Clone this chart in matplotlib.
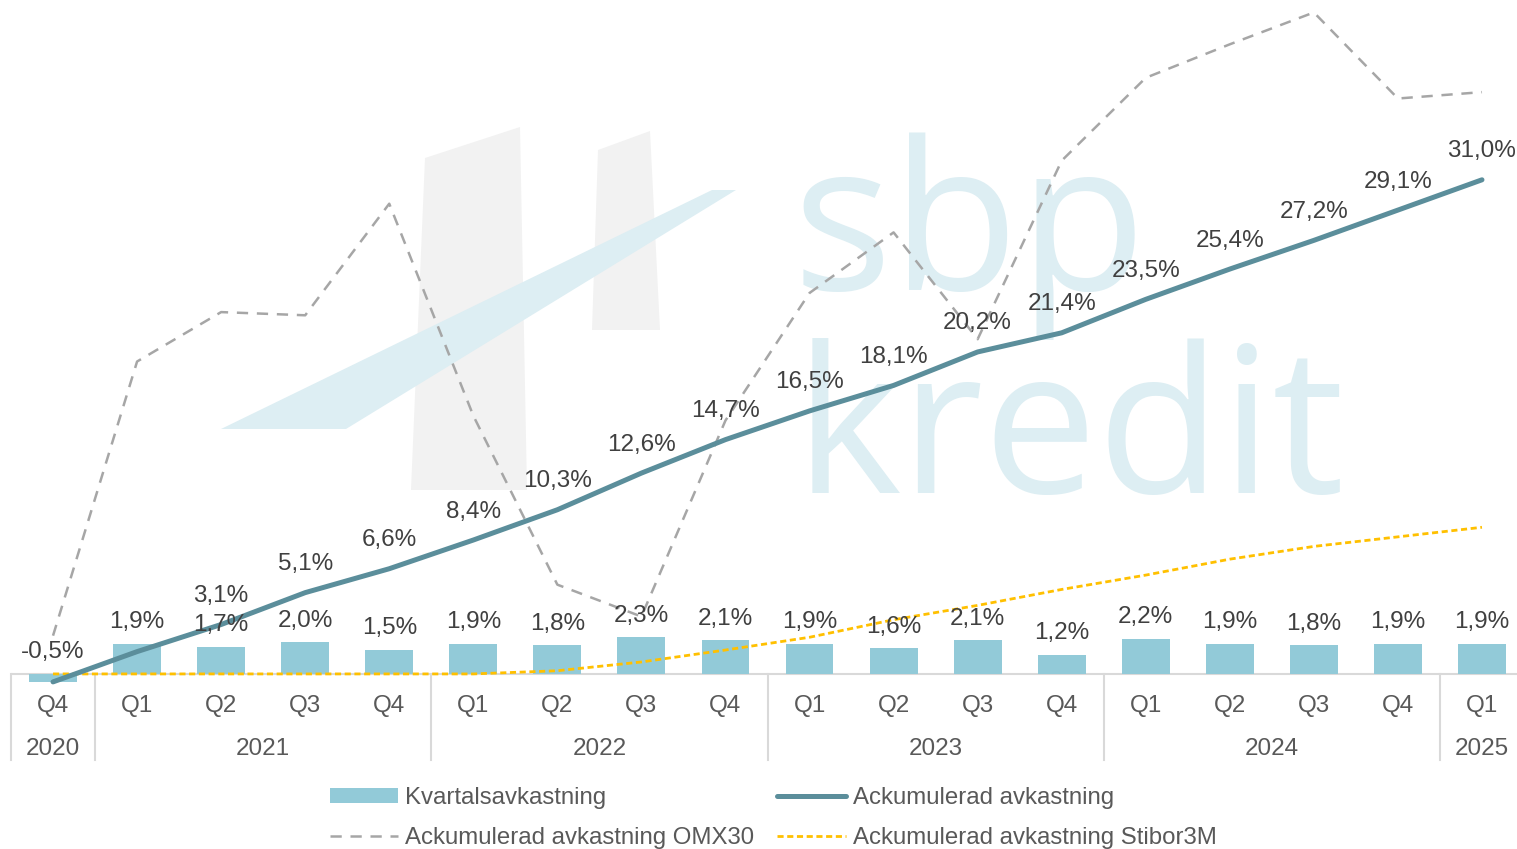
import numpy as np
import matplotlib
matplotlib.use("Agg")
import matplotlib.pyplot as plt
from matplotlib.patches import Polygon
from matplotlib.lines import Line2D
from matplotlib.patches import Patch

plt.rcParams['font.family'] = ['Liberation Sans', 'DejaVu Sans']

# --- data ---
quarters = ['Q4', 'Q1', 'Q2', 'Q3', 'Q4', 'Q1', 'Q2', 'Q3', 'Q4',
            'Q1', 'Q2', 'Q3', 'Q4', 'Q1', 'Q2', 'Q3', 'Q4', 'Q1']
years = ['2020', '2021', '2022', '2023', '2024', '2025']
year_span = [1, 4, 4, 4, 4, 1]

kvartal = [-0.5, 1.9, 1.7, 2.0, 1.5, 1.9, 1.8, 2.3, 2.1,
           1.9, 1.6, 2.1, 1.2, 2.2, 1.9, 1.8, 1.9, 1.9]
ackum = [-0.5, 1.4, 3.1, 5.1, 6.6, 8.4, 10.3, 12.6, 14.7,
         16.5, 18.1, 20.2, 21.4, 23.5, 25.4, 27.2, 29.1, 31.0]
omx30 = [2.4, 19.6, 22.7, 22.5, 29.5, 16.2, 5.6, 3.6, 15.9,
         23.9, 27.7, 21.0, 32.2, 37.4, 39.5, 41.5, 36.1, 36.5]
stibor = [0.0, 0.0, 0.0, 0.0, 0.0, 0.0, 0.2, 0.75, 1.5,
          2.3, 3.4, 4.3, 5.3, 6.2, 7.2, 8.0, 8.6, 9.2]

c_bar = '#92CAD8'
c_cum = '#5B8E9B'
c_omx = '#A6A6A6'
c_sti = '#FFC000'
c_txt = '#404040'
c_axis = '#595959'
c_grid = '#D9D9D9'
fs = 17.5

W, H = 1517, 849
fig = plt.figure(figsize=(W / 100, H / 100), dpi=100)


def fx(px):
    return px / W


def fy(py):
    return 1 - py / H


ax = fig.add_axes([fx(11), fy(760), fx(1524) - fx(11), fy(0) - fy(760)])
ax.patch.set_visible(False)
for s in ax.spines.values():
    s.set_visible(False)
ax.set_xticks([])
ax.set_yticks([])

x = np.arange(len(quarters))
ax.set_xlim(-0.5, len(quarters) - 0.5)
ax.set_ylim(-5.4, 42.28)

# watermark (logo) behind the chart
wm_blue = '#DDEEF3'
wm_grey = '#F2F2F2'
for pts, col in [
    ([(425, 158), (520, 127), (527, 490), (411, 490)], wm_grey),
    ([(598, 150), (650, 131), (660, 330), (592, 330)], wm_grey),
    ([(221, 429), (346, 429), (736, 190), (712, 190)], wm_blue),
]:
    fig.patches.append(Polygon([(fx(a), fy(b)) for a, b in pts], closed=True,
                               transform=fig.transFigure, facecolor=col,
                               edgecolor='none', zorder=-5))
fig.text(fx(793), fy(290), 'sbp', fontsize=150, color=wm_blue,
         family='Open Sans', ha='left', va='baseline', zorder=-5)
fig.text(fx(795), fy(493), 'kredit', fontsize=146, color=wm_blue,
         family='Open Sans', ha='left', va='baseline', zorder=-5)

# category axis
ax.axhline(0, color=c_grid, lw=1.5, zorder=1)
edges = np.concatenate([[0], np.cumsum(year_span)]) - 0.5
for e in edges:
    ax.plot([e, e], [0, -5.4], color=c_grid, lw=1.5, clip_on=False, zorder=1)
for i, q in enumerate(quarters):
    ax.text(i, -2.0, q, ha='center', va='center', fontsize=fs, color=c_axis)
for k, yr in enumerate(years):
    ax.text((edges[k] + edges[k + 1]) / 2, -4.7, yr, ha='center',
            va='center', fontsize=fs, color=c_axis)

# series
ax.bar(x, kvartal, width=0.57, color=c_bar, zorder=2)
ax.plot(x, stibor, color=c_sti, lw=2, ls=(0, (2.2, 1.3)), zorder=3)
ax.plot(x, omx30, color=c_omx, lw=1.8, ls=(0, (4.5, 3.5)), zorder=3)
ax.plot(x, ackum, color=c_cum, lw=3.6, solid_capstyle='round', zorder=4)

# labels
for i, v in enumerate(kvartal):
    ax.annotate(f'{v:.1f}%'.replace('.', ','), (i, max(v, 0)),
                xytext=(0, 15.5), textcoords='offset points', ha='center',
                va='center', fontsize=fs, color=c_txt, zorder=5)
for i, v in enumerate(ackum):
    if i < 2:
        continue
    ax.annotate(f'{v:.1f}%'.replace('.', ','), (i, v),
                xytext=(0, 20.5), textcoords='offset points', ha='center',
                va='center', fontsize=fs, color=c_txt, zorder=5)

# legend
handles = [
    Patch(facecolor=c_bar, edgecolor='none'),
    Line2D([], [], color=c_omx, lw=1.8, ls=(0, (4.5, 3.5))),
    Line2D([], [], color=c_cum, lw=3.6, solid_capstyle='round'),
    Line2D([], [], color=c_sti, lw=2, ls=(0, (2.2, 1.3))),
]
labels = ['Kvartalsavkastning', 'Ackumulerad avkastning OMX30',
          'Ackumulerad avkastning', 'Ackumulerad avkastning Stibor3M']
fig.legend(handles, labels, ncol=2, loc='upper left',
           bbox_to_anchor=(fx(308), fy(765)), frameon=False, fontsize=17.3,
           handlelength=2.85, handleheight=0.6, handletextpad=0.3,
           columnspacing=0.95, labelspacing=0.75, labelcolor=c_axis)

fig.savefig('out.png', dpi=100)
